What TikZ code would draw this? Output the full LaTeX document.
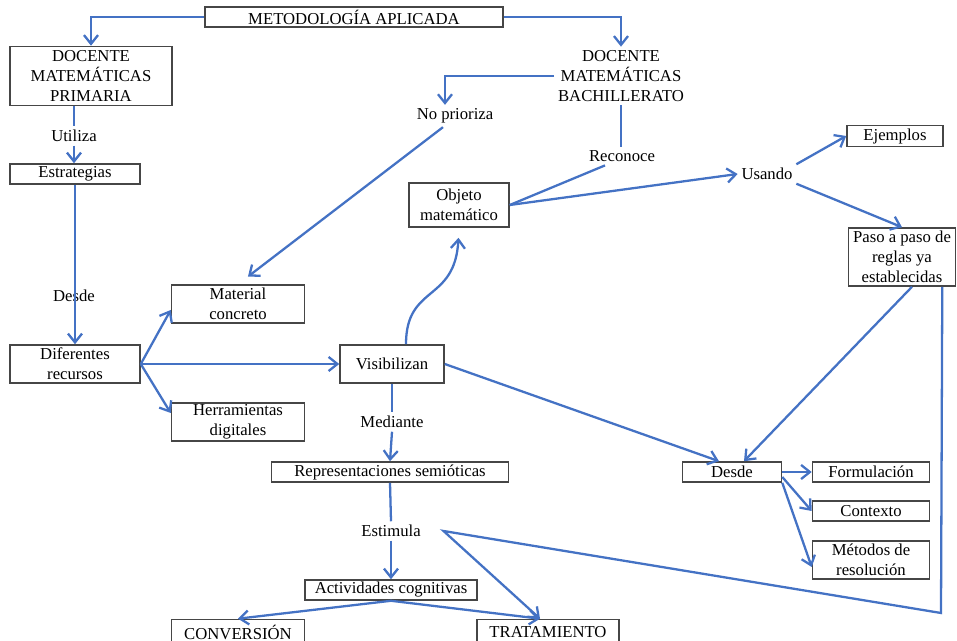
\documentclass[tikz,border=0pt]{standalone}
\usepackage{fontspec}
\setmainfont{Liberation Serif}
\usepackage{tikz}
\usetikzlibrary{arrows.meta}
\definecolor{azul}{RGB}{68,114,196}
\definecolor{borde}{RGB}{70,70,70}

\begin{document}
\begin{tikzpicture}[x=0.02cm,y=-0.02cm,font=\fontsize{9.5}{11.3}\selectfont]
\useasboundingbox (0,0) rectangle (957,641);
\begin{scope}[every node/.style={draw=borde,line width=0.9pt,align=center,inner sep=1pt,minimum height=0.4cm}]
    \node (Met)[minimum width=5.96cm] at (354,17) {METODOLOGÍA APLICADA};
    \node (Prim)[minimum width=3.24cm,minimum height=1.18cm] at (91,76) {DOCENTE\\MATEMÁTICAS\\PRIMARIA};
    \node (Estr)[minimum width=2.6cm] at (75,174) {Estrategias};
    \node (Obj)[minimum width=2cm,minimum height=0.88cm] at (459,205) {Objeto\\matemático};
    \node (Ejem)[minimum width=1.92cm,minimum height=0.42cm] at (895,136) {Ejemplos};
    \node (Paso)[minimum width=2.14cm,minimum height=1.16cm] at (902,257) {Paso a paso de\\reglas ya\\establecidas};
    \node (Mat)[minimum width=2.66cm,minimum height=0.76cm] at (238,304) {Material\\concreto};
    \node (Dif)[minimum width=2.6cm,minimum height=0.76cm] at (75,364) {Diferentes\\recursos};
    \node (Vis)[minimum width=2.08cm,minimum height=0.76cm] at (392,364) {Visibilizan};
    \node (Herr)[minimum width=2.66cm,minimum height=0.76cm] at (238,422) {Herramientas\\digitales};
    \node (Rep)[minimum width=4.74cm] at (390,472) {Representaciones semióticas};
    \node (Desd)[minimum width=1.98cm] at (732,472) {Desde};
    \node (Form)[minimum width=2.34cm] at (871,472) {Formulación};
    \node (Cont)[minimum width=2.34cm] at (871,511) {Contexto};
    \node (MRes)[minimum width=2.34cm,minimum height=0.76cm] at (871,560) {Métodos de\\resolución};
    \node (Act)[minimum width=3.44cm] at (391,590) {Actividades cognitivas};
    \node (Conv)[minimum width=2.66cm,minimum height=0.5cm] at (238,632) {CONVERSIÓN};
    \node (Trat)[minimum width=2.84cm,minimum height=0.5cm] at (548,632) {TRATAMIENTO};
\end{scope}

\begin{scope}[every node/.style={inner sep=2pt,align=center}]
    \node (Bach) at (621,76) {DOCENTE\\MATEMÁTICAS\\BACHILLERATO};
    \node (NoP) at (455,116) {No prioriza};
    \node (Util) at (74,136) {Utiliza};
    \node (Rec) at (622,156) {Reconoce};
    \node (Usa) at (767,174) {Usando};
    \node (DesdeL) at (74,296) {Desde};
    \node (Med) at (392,422) {Mediante};
    \node (Est) at (391,531) {Estimula};
    \coordinate (Esq) at (941,613);
\end{scope}

\begin{scope}[linea/.style={draw=azul,line width=1.3pt},
              flecha/.style={linea,-{Straight Barb[length=5pt,width=8pt]}},
              every edge/.style={flecha}]
    \draw[flecha] (Met.west) -| (Prim.north);
    \draw[flecha] (Met.east) -| (Bach.north);
    \draw[flecha] (Bach.west) -| ([xshift=-0.2cm]NoP.north);
    \draw[linea] (Util |- Prim.south) -- (Util.north);
    \path (Util.south) edge (Util.south |- Estr.north);
    \path (Estr.south) edge (Dif.north);
    \path ([xshift=-0.24cm]NoP.south) edge[shorten >=0.25cm] (Mat.north);
    \draw[linea] (Bach.south) -- (Bach.south |- Rec.north);
    \draw[linea] ([xshift=-0.34cm]Rec.south) -- (Obj.east);
    \path (Obj.east) edge (Usa.west);
    \path (Usa.north east) edge (Ejem.west);
    \path (Usa.south east) edge (Paso.north);
    \path ([xshift=0.2cm]Paso.south) edge ([xshift=0.24cm]Desd.north);
    \draw[flecha] ([xshift=-0.28cm]Paso.south east) -- (Esq) -- ([xshift=0.38cm]Est.east) -- ([xshift=-0.16cm]Trat.north);
    \path (Dif.east) edge ([yshift=-0.12cm]Mat.west);
    \path (Dif.east) edge (Vis.west);
    \path (Dif.east) edge ([yshift=0.18cm]Herr.west);
    \draw[flecha,shorten >=0.2cm] ([xshift=0.28cm]Vis.north) .. controls +(0,-60) and +(-4,75) .. (Obj.south);
    \path (Vis.east) edge ([xshift=-0.26cm]Desd.north);
    \draw[linea] (Vis.south -| Med) -- (Med.north);
    \path (Med.south) edge (Rep.north);
    \draw[linea] (Rep.south) -- (Est.north);
    \path (Est.south) edge (Act.north);
    \path (Act.south) edge (Conv.north);
    \path (Act.south) edge ([xshift=-0.16cm]Trat.north);
    \path (Desd.east) edge (Form.west);
    \path ([yshift=-0.1cm]Desd.east) edge (Cont.west);
    \path (Desd.south east) edge ([yshift=-0.14cm]MRes.west);
\end{scope}
\end{tikzpicture}
\end{document}
